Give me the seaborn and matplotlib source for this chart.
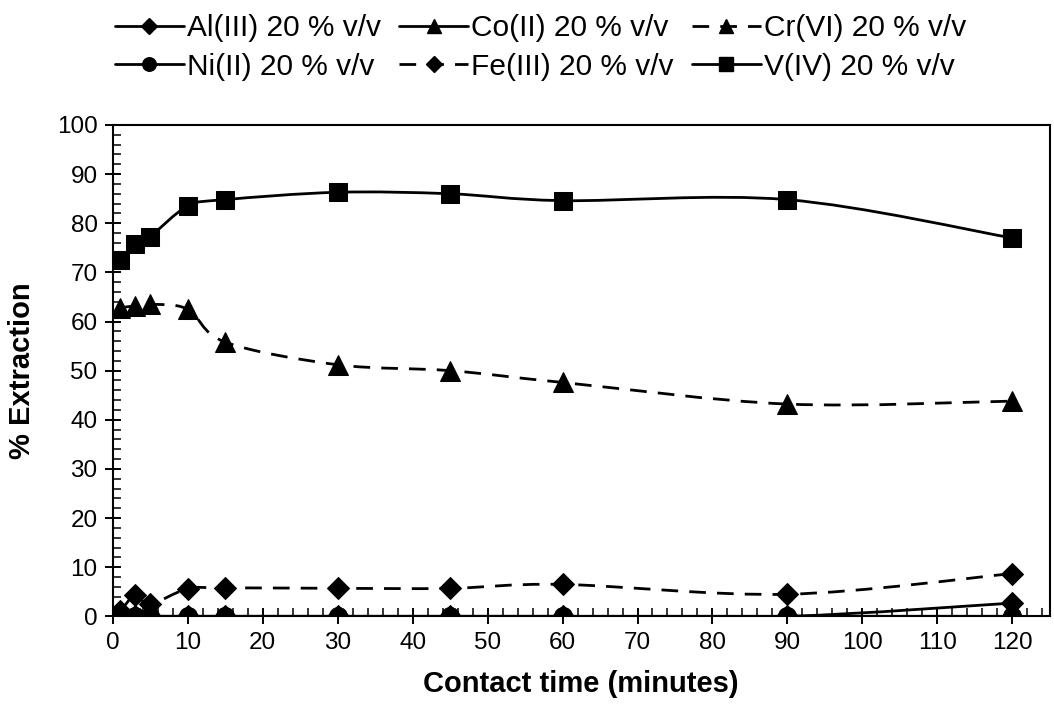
import numpy as np
import pandas as pd
import matplotlib
matplotlib.use('Agg')
import matplotlib.pyplot as plt
from matplotlib.path import Path
from matplotlib.patches import PathPatch
from matplotlib.lines import Line2D
from matplotlib.ticker import MultipleLocator
import seaborn as sns

# contact time (minutes)
time_min = [1, 3, 5, 10, 15, 30, 45, 60, 90, 120]

# % extraction per metal ion
al_iii = [0, 0, 0, 0, 0, 0, 0, 0, 0, 2.7]
co_ii = [0, 0, 0, 0, 0, 0, 0, 0, 0, 0]
cr_vi = [62.8, 63.2, 63.5, 62.5, 55.8, 51.2, 50.0, 47.6, 43.2, 43.8]
ni_ii = [0, 0, 0, 0, 0, 0, 0, 0, 0, 0]
fe_iii = [1.0, 4.3, 2.5, 5.6, 5.8, 5.7, 5.7, 6.5, 4.5, 8.7]
v_iv = [72.5, 75.8, 77.3, 83.5, 84.8, 86.3, 86.0, 84.6, 84.8, 77.0]

series_names = ['Al(III) 20 % v/v', 'Co(II) 20 % v/v', 'Cr(VI) 20 % v/v',
                'Ni(II) 20 % v/v', 'Fe(III) 20 % v/v', 'V(IV) 20 % v/v']
series_values = [al_iii, co_ii, cr_vi, ni_ii, fe_iii, v_iv]
markers = ['D', '^', '^', 'o', 'D', 's']
dashed = [False, False, True, False, True, False]

df = pd.concat([pd.DataFrame({'time': time_min, 'extraction': vals, 'series': name})
                for name, vals in zip(series_names, series_values)], ignore_index=True)

sns.set_style('white')
plt.rcParams['font.family'] = ['Liberation Sans', 'DejaVu Sans']
plt.rcParams.update({'text.color': 'black', 'axes.labelcolor': 'black',
                     'xtick.color': 'black', 'ytick.color': 'black'})

fig = plt.figure(figsize=(10.54, 7.06), dpi=100)
ax = fig.add_axes([0.107, 0.127, 0.889, 0.696])


def smooth_path(x, y):
    # Excel-like smoothed line: cubic Bezier through the points (Catmull-Rom)
    pts = np.column_stack([np.asarray(x, float), np.asarray(y, float)])
    verts = [pts[0]]
    codes = [Path.MOVETO]
    n = len(pts)
    for i in range(n - 1):
        p0 = pts[i - 1] if i > 0 else pts[i]
        p1 = pts[i]
        p2 = pts[i + 1]
        p3 = pts[i + 2] if i + 2 < n else pts[i + 1]
        verts += [p1 + (p2 - p0) / 6.0, p2 - (p3 - p1) / 6.0, p2]
        codes += [Path.CURVE4] * 3
    return Path(verts, codes)


sizes = {'s': 13, '^': 14, 'o': 13, 'D': 11}
handles = []
for name, vals, mk, ds in zip(series_names, series_values, markers, dashed):
    ls = (0, (6, 4)) if ds else '-'
    ax.add_patch(PathPatch(smooth_path(time_min, vals), facecolor='none', edgecolor='black',
                           linewidth=2.0, linestyle=ls, zorder=2))
    sub = df[df['series'] == name]
    sns.lineplot(data=sub, x='time', y='extraction', ax=ax, color='black',
                 linestyle='', marker=mk, markersize=sizes[mk], markeredgecolor='black',
                 legend=False, zorder=3)
    handles.append(Line2D([0], [0], color='black', linewidth=2.0, linestyle=ls,
                          marker=mk, markersize=sizes[mk] * 0.75))

ax.set_xlim(0, 125)
ax.set_ylim(0, 100)
ax.set_xticks(np.arange(0, 121, 10))
ax.xaxis.set_minor_locator(MultipleLocator(2))
ax.yaxis.set_major_locator(MultipleLocator(10))
ax.yaxis.set_minor_locator(MultipleLocator(2))
ax.tick_params(which='major', direction='inout', length=12, width=1.4, labelsize=17.5,
               bottom=True, left=True, pad=5)
ax.tick_params(which='minor', direction='in', length=6, width=1.1, bottom=True, left=True)
for sp in ax.spines.values():
    sp.set_linewidth(1.5)
    sp.set_color('black')

ax.set_xlabel('Contact time (minutes)', fontsize=21, fontweight='bold', labelpad=12)
ax.set_ylabel('% Extraction', fontsize=21, fontweight='bold', labelpad=15)

# legend order: matplotlib fills column-wise
order = [0, 3, 1, 4, 2, 5]
fig.legend([handles[i] for i in order], [series_names[i] for i in order],
           loc='upper center', bbox_to_anchor=(0.513, 1.005), ncol=3, frameon=False,
           fontsize=21.5, handlelength=2.3, handletextpad=0.12, columnspacing=0.6,
           labelspacing=0.35, borderaxespad=0.2)

fig.savefig('out.png', dpi=100)
